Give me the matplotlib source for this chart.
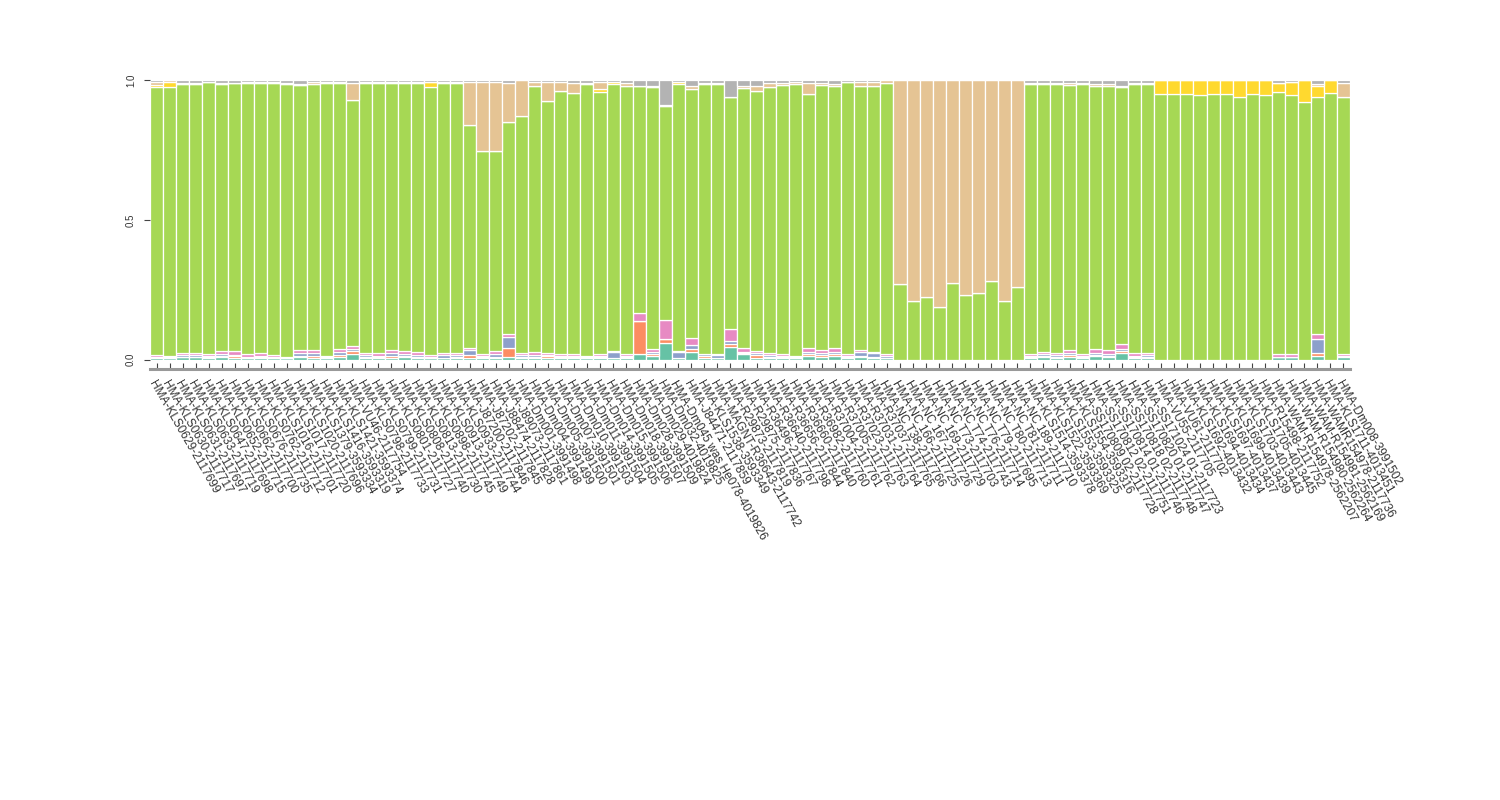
import matplotlib
matplotlib.use("Agg")
import matplotlib.pyplot as plt
import numpy as np

samples = [
    "HMA-KLS0629-2117699", "HMA-KLS0630-2117717", "HMA-KLS0631-2117697", "HMA-KLS0633-2117719",
    "HMA-KLS0647-2117698", "HMA-KLS0652-2117715", "HMA-KLS0662-2117700", "HMA-KLS0676-2117735",
    "HMA-KLS0762-2117712", "HMA-KLS1016-2117701", "HMA-KLS1017-2117720", "HMA-KLS1020-2117696",
    "HMA-KLS1379-3593334", "HMA-KLS1416-3593319", "HMA-KLS1421-3593374", "HMA-VU46-2117754",
    "HMA-KLS0798-2117733", "HMA-KLS0799-2117731", "HMA-KLS0801-2117727", "HMA-KLS0808-2117740",
    "HMA-KLS0813-2117730", "HMA-KLS0898-2117745", "HMA-KLS0913-2117749", "HMA-KLS0933-2117744",
    "HMA-J87200-2117846", "HMA-J87202-2117845", "HMA-J88474-2117828", "HMA-J89073-2117861",
    "HMA-Dm001-3991498", "HMA-Dm004-3991499", "HMA-Dm005-3991500", "HMA-Dm007-3991501",
    "HMA-Dm010-3991503", "HMA-Dm011-3991504", "HMA-Dm014-3991505", "HMA-Dm015-3991506",
    "HMA-Dm018-3991507", "HMA-Dm028-3991509", "HMA-Dm029-4019824", "HMA-Dm032-4019825",
    "HMA-Dm045 was He078-4019826", "HMA-J84471-2117859", "HMA-KLS1538-3593349",
    "HMA-MAGNT-R36643-2117742", "HMA-R29873-2117819", "HMA-R29875-2117836", "HMA-R36496-2117767",
    "HMA-R36640-2117798", "HMA-R36656-2117844", "HMA-R36660-2117840", "HMA-R36982-2117760",
    "HMA-R37004-2117761", "HMA-R37005-2117762", "HMA-R37023-2117763", "HMA-R37031-2117764",
    "HMA-R37037-2117765", "HMA-NC T38-2117766", "HMA-NC 166-2117725", "HMA-NC 167-2117726",
    "HMA-NC 169-2117729", "HMA-NC T73-2117703", "HMA-NC T74-2117743", "HMA-NC T76-2117714",
    "HMA-NC T79-2117695", "HMA-NC T80-2117713", "HMA-NC T81-2117711", "HMA-NC 189-2117710",
    "HMA-KLS1514-3593378", "HMA-KLS1522-3593369", "HMA-KLS1553-3593325", "HMA-KLS1554-3593316",
    "HMA-SS170809 02-2117728", "HMA-SS170812 02-2117751", "HMA-SS170814 01-2117746",
    "HMA-SS170818 02-2117748", "HMA-SS170820 01-2117747", "HMA-SS171024 01-2117723",
    "HMA-VU55-2117705", "HMA-VU61-2117702", "HMA-KLS1692-4013432", "HMA-KLS1694-4013434",
    "HMA-KLS1697-4013437", "HMA-KLS1699-4013439", "HMA-KLS1703-4013443", "HMA-KLS1705-4013445",
    "HMA-R15498-2117752", "HMA-WAM-R154978-2562207", "HMA-WAM-R154980-2562264",
    "HMA-WAM-R154981-2562169", "HMA-WAMR154978-2117736", "HMA-KLS1711-4013451",
    "HMA-Dm008-3991502",
]

cluster1 = [.006, .005, .008, .010, .004, .010, .006, .006, .004, .006,
            .004, .010, .006, .004, .010, .020, .006, .006, .006, .008,
            .006, .004, .006, .006, .006, .004, .004, .010, .006, .006,
            .006, .004, .004, .004, .004, .004, .004, .020, .014, .058,
            .004, .026, .004, .004, .046, .020, .006, .006, .004, .004,
            .012, .010, .014, .004, .010, .006, .004, 0, 0, 0,
            0, 0, 0, 0, 0, 0, 0, .006, .008, .006,
            .010, .004, .012, .008, .024, .006, .006, 0, 0, 0,
            0, 0, 0, 0, 0, 0, .008, .010, 0, .012,
            0, .008]
cluster2 = [.004, 0, 0, 0, .004, .004, .006, 0, .004, 0,
            0, .004, .006, 0, .006, .010, .004, .004, .006, .004,
            .004, 0, 0, .004, .010, .004, .006, .030, .004, .004,
            .006, .004, .004, 0, .004, 0, .004, .118, .006, .016,
            0, .010, .010, 0, .010, .004, .010, .004, .004, 0,
            .006, .006, .006, .004, .004, .004, 0, 0, 0, 0,
            0, 0, 0, 0, 0, 0, 0, .004, .006, .004,
            .006, .004, .004, .004, .006, .004, .004, 0, 0, 0,
            0, 0, 0, 0, 0, 0, 0, 0, 0, .010,
            0, .005]
cluster3 = [0, .004, .008, .006, .004, .004, .004, .004, .006, .004,
            0, .010, .010, .004, .010, .008, .006, .004, .010, .006,
            .006, .006, .010, .006, .018, .004, .008, .040, .006, .006,
            .004, .004, .004, .004, .004, .024, .004, 0, .006, 0,
            .024, .016, .004, .012, .010, .004, .006, .006, .006, .004,
            .008, .006, .006, .004, .014, .012, .010, 0, 0, 0,
            0, 0, 0, 0, 0, 0, 0, .004, .004, .006,
            .006, .006, .006, .006, .006, .004, .006, 0, 0, 0,
            0, 0, 0, 0, 0, 0, 0, 0, 0, .053,
            0, 0]
cluster4 = [.006, .004, .006, .006, .006, .012, .016, .008, .010, .006,
            .006, .010, .012, .006, .010, .012, .008, .008, .012, .012,
            .012, .006, .006, .008, .006, .006, .012, .010, .008, .010,
            .006, .006, .006, .004, .006, .002, .006, .028, .012, .066,
            .002, .024, 0, .004, .044, .014, .010, .008, .006, .004,
            .014, .012, .014, .006, .006, .004, .004, 0, 0, 0,
            0, 0, 0, 0, 0, 0, 0, .006, .010, .008,
            .012, .006, .016, .016, .020, .008, .008, 0, 0, 0,
            0, 0, 0, 0, 0, 0, .010, .010, 0, .015,
            0, .005]
cluster5 = [.962, .962, .966, .966, .976, .958, .958, .972, .966, .976,
            .978, .950, .954, .976, .954, .880, .966, .970, .956, .960,
            .962, .960, .968, .966, .800, .730, .718, .760, .850, .956,
            .904, .946, .938, .976, .942, .956, .962, .814, .938, .768,
            .956, .894, .970, .968, .830, .932, .930, .952, .964, .976,
            .912, .950, .940, .976, .948, .956, .972, .270, .210, .225,
            .190, .275, .230, .240, .280, .210, .260, .968, .960, .962,
            .950, .966, .942, .946, .920, .966, .964, .950, .952, .952,
            .948, .951, .952, .940, .952, .948, .940, .928, .922, .851,
            .955, .924]
cluster6 = [.006, .020, 0, 0, 0, 0, 0, 0, 0, 0,
            0, 0, 0, 0, 0, 0, 0, 0, 0, 0,
            0, .018, 0, 0, 0, 0, 0, 0, 0, 0,
            0, 0, 0, 0, .010, .010, 0, 0, 0, 0,
            .008, 0, 0, 0, 0, 0, 0, 0, 0, 0,
            0, 0, 0, 0, 0, 0, 0, 0, 0, 0,
            0, 0, 0, 0, 0, 0, 0, 0, 0, 0,
            0, 0, 0, 0, 0, 0, 0, .050, .048, .048,
            .052, .049, .048, .060, .048, .052, .034, .045, .078, .040,
            .045, 0]
cluster7 = [.010, .005, .004, .004, 0, .004, .002, .004, .004, .002,
            .004, .004, .006, .004, .004, .060, .004, .002, .004, .004,
            .004, 0, .004, .004, .156, .248, .246, .140, .126, .012,
            .070, .030, .036, .004, .024, 0, .010, 0, .004, .004,
            0, .010, .004, .004, 0, .006, .020, .014, .008, .006,
            .040, .006, .006, 0, .012, .012, .010, .730, .790, .775,
            .810, .725, .770, .760, .720, .790, .740, .004, .004, .006,
            .006, .004, .006, .008, .006, .004, .004, 0, 0, 0,
            0, 0, 0, 0, 0, 0, 0, 0, 0, .006,
            0, .050]
cluster8 = [.006, 0, .008, .008, .006, .008, .008, .006, .006, .006,
            .008, .012, .006, .006, .006, .010, .006, .006, .006, .006,
            .006, .006, .006, .006, .004, .004, .006, .010, 0, .006,
            .004, .006, .008, .008, .006, .004, .010, .020, .020, .088,
            .006, .020, .008, .008, .060, .020, .018, .010, .008, .006,
            .008, .010, .014, .006, .006, .006, 0, 0, 0, 0,
            0, 0, 0, 0, 0, 0, 0, .008, .008, .008,
            .010, .010, .014, .012, .018, .008, .008, 0, 0, 0,
            0, 0, 0, 0, 0, 0, .008, .007, 0, .013,
            0, .008]

series = [cluster1, cluster2, cluster3, cluster4, cluster5, cluster6, cluster7, cluster8]
colors = ['#66c2a5', '#fc8d62', '#8da0cb', '#e78ac3', '#a6d854', '#ffd92f', '#e5c494', '#b3b3b3']

fig = plt.figure(figsize=(15, 8), dpi=100)
ax = fig.add_axes([0.1, 0.5506, 0.8, 0.3488])

for s in ['top', 'right', 'left']:
    ax.spines[s].set_visible(False)
ax.spines['bottom'].set_position(('outward', 7))
ax.spines['bottom'].set_color('#999999')
ax.spines['bottom'].set_linewidth(2.2)

x = np.arange(len(samples))
bottom = np.zeros(len(samples))
for vals, col in zip(series, colors):
    v = np.array(vals, dtype=float)
    ax.bar(x, v, bottom=bottom, width=1.0, color=col, edgecolor='white', linewidth=0.9)
    bottom += v

ax.set_xlim(-0.5, len(samples) - 0.5)
ax.set_ylim(0, 1)

ax.set_xticks(x)
ax.set_xticklabels(samples)
ax.set_yticks([0, 0.5, 1.0])
ax.set_yticklabels(['0.0', '0.5', '1.0'])
ax.tick_params(axis='x', direction='in', length=4, width=0.8, color='#444444', pad=7)
ax.tick_params(axis='y', direction='out', length=4, width=0.8, color='#444444', pad=6)

for lbl in ax.get_xticklabels():
    lbl.set_rotation(-60)
    lbl.set_rotation_mode('anchor')
    lbl.set_ha('left')
    lbl.set_va('top')
    lbl.set_fontsize(8.6)
    lbl.set_family('Liberation Sans')
    lbl.set_color('#333333')
for lbl in ax.get_yticklabels():
    lbl.set_rotation(90)
    lbl.set_va('center')
    lbl.set_fontsize(7)
    lbl.set_family('Liberation Sans')
    lbl.set_color('#333333')

fig.savefig('out.png', dpi=100, facecolor='white')
